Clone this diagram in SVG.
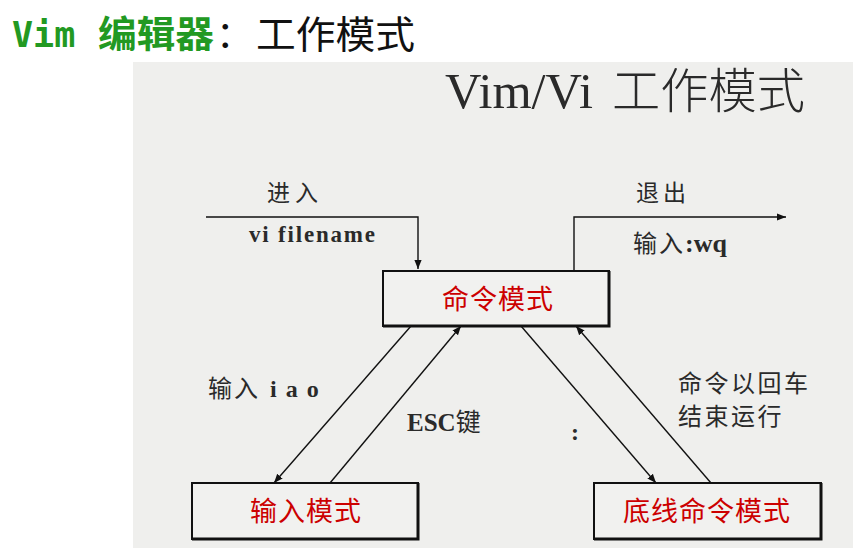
<svg xmlns="http://www.w3.org/2000/svg" width="855" height="554" viewBox="0 0 855 554">
<defs>
<style>
.cjk{font-family:"Noto Sans CJK SC","Noto Sans",sans-serif;fill:#2a2a2a}
.ser{font-family:"Liberation Serif","Noto Sans CJK SC",serif;fill:#2a2a2a;font-weight:bold}
.red{font-family:"Noto Sans CJK SC",sans-serif;fill:#cc0000;font-size:27px;letter-spacing:1px;text-anchor:middle}
.box{fill:#f1f1ef;stroke:#111;stroke-width:2}
.ln{fill:none;stroke:#111;stroke-width:1.4}
</style>
<marker id="ah" viewBox="0 0 10 10" refX="10" refY="5" markerWidth="9" markerHeight="9" markerUnits="userSpaceOnUse" orient="auto">
<path d="M0,1 L10,5 L0,9 z" fill="#111"/>
</marker>
</defs>
<rect width="855" height="554" fill="#ffffff"/>
<g id="title">
<text x="12" y="47" font-family="DejaVu Sans Mono,monospace" font-weight="bold" font-size="35" fill="#229922">Vim</text>
<text x="98" y="48" font-family="Noto Sans CJK SC,sans-serif" font-weight="bold" font-size="37" fill="#229922" textLength="116" lengthAdjust="spacingAndGlyphs">编辑器</text>
<text x="216" y="48" font-family="Noto Sans CJK SC,sans-serif" font-size="37" fill="#111">：</text>
<text x="256" y="48" font-family="Noto Sans CJK SC,sans-serif" font-size="38" fill="#111" textLength="159" lengthAdjust="spacingAndGlyphs">工作模式</text>
</g>
<rect id="panel" x="133" y="62" width="720" height="486" fill="#efefed"/>
<g id="panel-title">
<text x="445" y="108" font-family="Liberation Serif,serif" font-size="51" fill="#2a2a2a" textLength="148" lengthAdjust="spacingAndGlyphs">Vim/Vi</text>
<text x="612" y="108" font-family="Noto Sans CJK SC,sans-serif" font-weight="300" font-size="48" fill="#2a2a2a" textLength="193" lengthAdjust="spacingAndGlyphs">工作模式</text>
</g>
<g id="connectors">
<polyline class="ln" points="206,217 418,217 418,269" marker-end="url(#ah)"/>
<polyline class="ln" points="574,270 574,217 786,217" marker-end="url(#ah)"/>
<line class="ln" x1="411" y1="326" x2="274" y2="483" marker-end="url(#ah)"/>
<line class="ln" x1="330" y1="483" x2="461" y2="326" marker-end="url(#ah)"/>
<line class="ln" x1="521" y1="326" x2="656" y2="483" marker-end="url(#ah)"/>
<line class="ln" x1="711" y1="483" x2="576" y2="326" marker-end="url(#ah)"/>
</g>
<g id="labels">
<text class="cjk" x="267" y="201" font-size="23" letter-spacing="5">进入</text>
<text class="ser" x="249" y="242" font-size="23" textLength="126" lengthAdjust="spacing">vi filename</text>
<text class="cjk" x="636" y="201" font-size="23" letter-spacing="4">退出</text>
<text x="633" y="252" font-size="24"><tspan class="cjk" letter-spacing="2">输入</tspan><tspan class="ser" font-size="26">:wq</tspan></text>
<text x="208" y="397" font-size="24"><tspan class="cjk" letter-spacing="2">输入</tspan><tspan class="ser" x="270" letter-spacing="1.5">i a o</tspan></text>
<text x="407" y="431" font-size="25"><tspan class="ser">ESC</tspan><tspan class="cjk">键</tspan></text>
<text class="ser" x="571" y="440" font-size="24">:</text>
<text class="cjk" x="678" y="392" font-size="24" letter-spacing="2.5">命令以回车</text>
<text class="cjk" x="678" y="425" font-size="24" letter-spacing="2.5">结束运行</text>
</g>
<g id="node-command">
<rect class="box" x="383" y="271" width="226" height="55"/>
<path d="M609,271 V326 H383" fill="none" stroke="#111" stroke-width="3"/>
<text class="red" x="498" y="309">命令模式</text>
</g>
<g id="node-insert">
<rect class="box" x="192" y="483" width="226" height="56"/>
<path d="M418,483 V539 H192" fill="none" stroke="#111" stroke-width="3"/>
<text class="red" x="306" y="521">输入模式</text>
</g>
<g id="node-lastline">
<rect class="box" x="594" y="483" width="227" height="56"/>
<path d="M821,483 V539 H594" fill="none" stroke="#111" stroke-width="3"/>
<text class="red" x="707" y="521">底线命令模式</text>
</g>
</svg>
